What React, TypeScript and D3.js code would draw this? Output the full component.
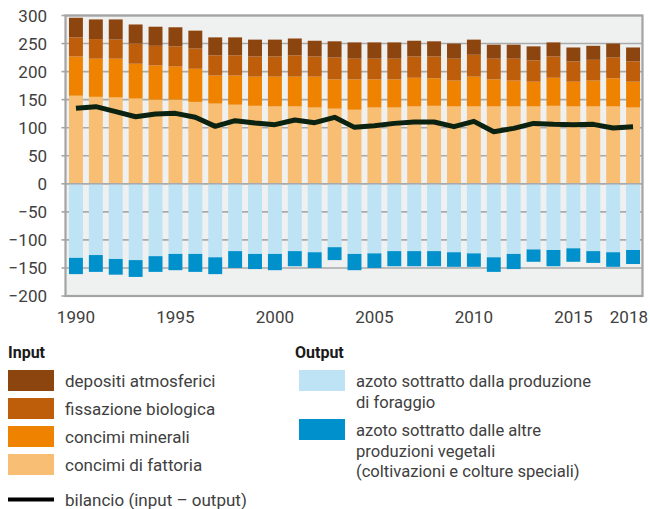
import React, { useEffect, useRef } from "react";
import * as d3 from "d3";

// Data (kg N per ha, more or less)
const years = d3.range(1990, 2019);
const fattoria = [157, 155, 154, 152, 150, 150, 146, 143, 141, 139, 138, 138, 136, 134, 132, 136, 136, 138, 139, 138, 138, 138, 138, 138, 139, 138, 138, 138, 136];
const minerali = [70, 68, 69, 62, 61, 59, 59, 50, 52, 52, 53, 53, 55, 52, 54, 50, 50, 51, 49, 46, 53, 48, 46, 44, 50, 44, 46, 50, 46];
const fissazione = [34, 35, 34, 36, 35, 36, 36, 36, 36, 36, 36, 38, 36, 39, 37, 37, 37, 38, 39, 39, 39, 37, 39, 38, 38, 36, 37, 37, 36];
const depositi = [35, 35, 36, 34, 34, 34, 32, 32, 32, 30, 30, 30, 28, 29, 29, 29, 29, 28, 27, 27, 27, 25, 25, 25, 25, 25, 25, 25, 25];
const foraggio = [132, 127, 134, 136, 129, 125, 125, 131, 120, 125, 125, 120, 122, 113, 125, 124, 120, 120, 120, 122, 124, 131, 125, 117, 118, 115, 120, 122, 118];
const altre = [29, 30, 28, 30, 28, 29, 32, 30, 30, 27, 29, 27, 28, 23, 29, 26, 27, 27, 27, 26, 24, 26, 27, 22, 29, 24, 21, 26, 25];
const bilancio = [134.5, 137.5, 128.6, 119.6, 124.4, 125.6, 118.5, 102.4, 112.5, 108.3, 105.4, 113.7, 108.9, 118.5, 100.6, 103.6, 107.7, 110.1, 110.1, 101.8, 111.3, 92.9, 98.8, 107.7, 106, 105.4, 106, 99.4, 101.8];

const xTickYears = [1990, 1995, 2000, 2005, 2010, 2015, 2018];
const yTicks = [-200, -150, -100, -50, 0, 50, 100, 150, 200, 250, 300];

const inputKeys = ["fattoria", "minerali", "fissazione", "depositi"];
const inputLabels = ["depositi atmosferici", "fissazione biologica", "concimi minerali", "concimi di fattoria"];
const outputLabels = [
  ["azoto sottratto dalla produzione", "di foraggio"],
  ["azoto sottratto dalle altre", "produzioni vegetali", "(coltivazioni e colture speciali)"],
];

const colors: Record<string, string> = {
  depositi: "#8d4510",
  fissazione: "#be5e0b",
  minerali: "#ef8300",
  fattoria: "#f8be73",
  foraggio: "#bde3f5",
  altre: "#0091cc",
};

const width = 650;
const height = 509;
const plot = { left: 65.5, right: 642.5, top: 15.5, bottom: 296 };
const textColor = "#404040";
const font = "Roboto, 'Noto Sans', sans-serif";

function NitrogenChart() {
  const svgRef = useRef<SVGSVGElement>(null);

  useEffect(() => {
    const svg = d3.select(svgRef.current).html("")
      .attr("width", width)
      .attr("height", height)
      .style("font-family", font);

    const x = d3.scaleBand<number>()
      .domain(years)
      .range([plot.left + 0.5, plot.right + 0.5])
      .paddingInner(0.3)
      .paddingOuter(0.15);

    const y = d3.scaleLinear()
      .domain([-200, 300])
      .range([plot.bottom, plot.top]);

    // plot background
    svg.append("rect")
      .attr("x", plot.left).attr("y", plot.top)
      .attr("width", plot.right - plot.left)
      .attr("height", plot.bottom - plot.top)
      .attr("fill", "#eff0f0");

    // gridlines
    svg.append("g").selectAll("line")
      .data(yTicks)
      .enter().append("line")
      .attr("x1", plot.left).attr("x2", plot.right)
      .attr("y1", (d) => y(d)).attr("y2", (d) => y(d))
      .attr("stroke", "#aaaaaa")
      .attr("stroke-width", 1.6);

    // stacked inputs
    const rows = years.map((yr, i) => ({
      year: yr,
      fattoria: fattoria[i],
      minerali: minerali[i],
      fissazione: fissazione[i],
      depositi: depositi[i],
    }));
    const stack = d3.stack<any>().keys(inputKeys)(rows);

    svg.append("g").selectAll("g")
      .data(stack)
      .enter().append("g")
      .attr("fill", (s) => colors[s.key])
      .selectAll("rect")
      .data((s) => s)
      .enter().append("rect")
      .attr("x", (d) => x(d.data.year)!)
      .attr("width", x.bandwidth())
      .attr("y", (d) => y(d[1]))
      .attr("height", (d) => y(d[0]) - y(d[1]));

    // outputs (negative)
    const outRows = years.map((yr, i) => ({ year: yr, foraggio: foraggio[i], altre: altre[i] }));
    const outStack = d3.stack<any>().keys(["foraggio", "altre"])(outRows);

    svg.append("g").selectAll("g")
      .data(outStack)
      .enter().append("g")
      .attr("fill", (s) => colors[s.key])
      .selectAll("rect")
      .data((s) => s)
      .enter().append("rect")
      .attr("x", (d) => x(d.data.year)!)
      .attr("width", x.bandwidth())
      .attr("y", (d) => y(-d[0]))
      .attr("height", (d) => y(-d[1]) - y(-d[0]));

    // zero line
    svg.append("line")
      .attr("x1", plot.left).attr("x2", plot.right)
      .attr("y1", y(0)).attr("y2", y(0))
      .attr("stroke", "#aaaaaa")
      .attr("stroke-width", 1.6);

    // balance line
    const line = d3.line<number>()
      .x((d, i) => x(years[i])! + x.bandwidth() / 2)
      .y((d) => y(d));

    svg.append("path")
      .datum(bilancio)
      .attr("d", line)
      .attr("fill", "none")
      .attr("stroke", "#0b2210")
      .attr("stroke-width", 5)
      .attr("stroke-linejoin", "round");

    // frame
    svg.append("rect")
      .attr("x", plot.left).attr("y", plot.top)
      .attr("width", plot.right - plot.left)
      .attr("height", plot.bottom - plot.top)
      .attr("fill", "none")
      .attr("stroke", "#a4a4a4")
      .attr("stroke-width", 2.2);

    // y axis ticks + labels
    const yAxis = svg.append("g");
    yAxis.selectAll("line")
      .data(yTicks)
      .enter().append("line")
      .attr("x1", plot.left - 4).attr("x2", plot.left)
      .attr("y1", (d) => y(d)).attr("y2", (d) => y(d))
      .attr("stroke", "#a4a4a4")
      .attr("stroke-width", 1.6);
    yAxis.selectAll("text")
      .data(yTicks)
      .enter().append("text")
      .attr("x", 47)
      .attr("y", (d) => y(d) + 6)
      .attr("text-anchor", "end")
      .attr("font-size", 17)
      .attr("fill", textColor)
      .text((d) => (d < 0 ? "\u2212" + Math.abs(d) : String(d)));

    // x labels (last one pulled in so it stays on the page)
    const lastYear = xTickYears[xTickYears.length - 1];
    svg.append("g").selectAll("text")
      .data(xTickYears)
      .enter().append("text")
      .attr("x", (d) => (d === lastYear ? width - 2 : x(d)! + x.bandwidth() / 2))
      .attr("y", 323)
      .attr("text-anchor", (d) => (d === lastYear ? "end" : "middle"))
      .attr("font-size", 17)
      .attr("fill", textColor)
      .text((d) => d);

    // legend: input
    const legIn = svg.append("g");
    legIn.append("text")
      .attr("x", 8).attr("y", 358)
      .attr("font-size", 16).attr("font-weight", "bold")
      .attr("fill", "#1a1a1a")
      .text("Input");
    const inKeys = ["depositi", "fissazione", "minerali", "fattoria"];
    inKeys.forEach((k, i) => {
      const cy = 380.5 + i * 28;
      legIn.append("rect")
        .attr("x", 8).attr("y", cy - 10.5)
        .attr("width", 46).attr("height", 21)
        .attr("fill", colors[k]);
      legIn.append("text")
        .attr("x", 65).attr("y", cy + 6.5)
        .attr("font-size", 17).attr("fill", textColor)
        .text(inputLabels[i]);
    });
    legIn.append("line")
      .attr("x1", 8).attr("x2", 54)
      .attr("y1", 499.5).attr("y2", 499.5)
      .attr("stroke", "#000").attr("stroke-width", 4);
    legIn.append("text")
      .attr("x", 65).attr("y", 505.5)
      .attr("font-size", 17).attr("fill", textColor)
      .text("bilancio (input \u2013 output)");

    // legend: output
    const legOut = svg.append("g");
    legOut.append("text")
      .attr("x", 295).attr("y", 358)
      .attr("font-size", 16).attr("font-weight", "bold")
      .attr("fill", "#1a1a1a")
      .text("Output");
    const outKeys = ["foraggio", "altre"];
    const outTop = [370, 419];
    outKeys.forEach((k, i) => {
      legOut.append("rect")
        .attr("x", 299).attr("y", outTop[i])
        .attr("width", 46).attr("height", 21)
        .attr("fill", colors[k]);
      legOut.append("text")
        .attr("font-size", 16.6).attr("fill", textColor)
        .selectAll("tspan")
        .data(outputLabels[i])
        .enter().append("tspan")
        .attr("x", 356)
        .attr("y", (d, j) => outTop[i] + 17 + j * 20.5)
        .text((d) => d);
    });
  }, []);

  return <svg ref={svgRef}></svg>;
}

export default function App() {
  return (
    <div style={{ position: "absolute", left: 0, top: 0, width, height, background: "#fff" }}>
      <NitrogenChart />
    </div>
  );
}
